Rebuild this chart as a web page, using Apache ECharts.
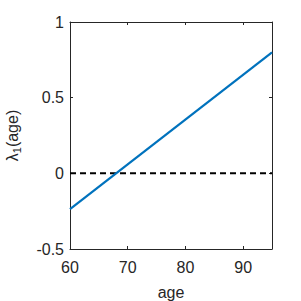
<!DOCTYPE html>
<html>
<head>
<meta charset="utf-8">
<script src="https://cdn.jsdelivr.net/npm/echarts@6/dist/echarts.min.js"></script>
<style>html,body{margin:0;padding:0;background:#fff}#c{width:301px;height:301px}</style>
</head>
<body>
<div id="c"></div>
<script>
const ages = [60, 95];
const lambda1 = [-0.237, 0.8];
const zeroLine = [0, 0];
const xTicks = [60, 70, 80, 90];
const yTicks = [-0.5, 0, 0.5, 1];

const axisColor = '#262626';
const font = 'Liberation Sans, Arial, sans-serif';
const chart = echarts.init(document.getElementById('c'), null, {renderer: 'svg'});
const baseX = {
  type: 'value', min: 60, max: 95, interval: 10,
  axisLine: {show: true, onZero: false, lineStyle: {color: axisColor, width: 1}},
  axisTick: {show: true, inside: true, length: 3, lineStyle: {color: axisColor}},
  splitLine: {show: false}
};
const baseY = {
  type: 'value', min: -0.5, max: 1, interval: 0.5,
  axisLine: {show: true, onZero: false, lineStyle: {color: axisColor, width: 1}},
  axisTick: {show: true, inside: true, length: 3, lineStyle: {color: axisColor}},
  splitLine: {show: false}
};
chart.setOption({
  animation: false,
  grid: {left: 70, right: 29, top: 22, bottom: 52, containLabel: false, outerBoundsMode: 'none'},
  xAxis: [
    Object.assign({}, baseX, {
      position: 'bottom',
      name: 'age', nameLocation: 'middle', nameGap: 35,
      nameTextStyle: {color: axisColor, fontSize: 16, fontFamily: font},
      axisLabel: {color: axisColor, fontSize: 16, fontFamily: font, margin: 10,
        formatter: v => xTicks.includes(v) ? String(v) : ''}
    }),
    Object.assign({}, baseX, {position: 'top', axisLabel: {show: false}})
  ],
  yAxis: [
    Object.assign({}, baseY, {
      position: 'left',
      name: '{l|λ}{s|1}{l|(age)}', nameLocation: 'middle', nameGap: 48, nameRotate: 90,
      nameTextStyle: {color: axisColor, fontSize: 16, fontFamily: font,
        rich: {l: {fontSize: 16, fontFamily: font, color: axisColor},
               s: {fontSize: 11, fontFamily: font, color: axisColor, verticalAlign: 'bottom', padding: [8, 0, 0, 0]}}},
      axisLabel: {color: axisColor, fontSize: 16, fontFamily: font, margin: 6,
        formatter: v => yTicks.includes(v) ? String(v) : ''}
    }),
    Object.assign({}, baseY, {position: 'right', axisLabel: {show: false}})
  ],
  series: [
    {type: 'line', xAxisIndex: 0, yAxisIndex: 0, data: ages.map((a, i) => [a, zeroLine[i]]),
     symbol: 'none', lineStyle: {color: '#000000', width: 2, type: [6, 4]}, z: 3},
    {type: 'line', xAxisIndex: 0, yAxisIndex: 0, data: ages.map((a, i) => [a, lambda1[i]]),
     symbol: 'none', lineStyle: {color: '#0072BD', width: 2.2}, z: 4}
  ]
});
</script>
</body>
</html>
